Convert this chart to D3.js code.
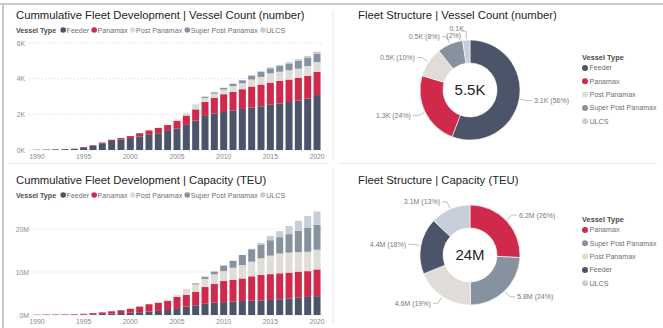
<!DOCTYPE html>
<html><head><meta charset="utf-8">
<script src="https://cdn.jsdelivr.net/npm/d3@7/dist/d3.min.js"></script>
<style>
html,body{margin:0;padding:0;background:#fff;}
svg{display:block;font-family:"Liberation Sans",Arial,sans-serif;}
</style></head><body>
<svg id="dash" width="663" height="328"></svg>
<script>
// ---- data ----------------------------------------------------------
const years = [1990,1991,1992,1993,1994,1995,1996,1997,1998,1999,2000,2001,2002,2003,2004,2005,
               2006,2007,2008,2009,2010,2011,2012,2013,2014,2015,2016,2017,2018,2019,2020];
const yearTicks = [1990,1995,2000,2005,2010,2015,2020];
const vesselTypes = ["Feeder","Panamax","Post Panamax","Super Post Panamax","ULCS"];
const typeColors  = ["#4b5469","#cf2a4c","#e0dcd8","#8792a1","#c6ced9"];

// cumulative vessel count (number of vessels)
const countFeeder   = [10,22,32,45,62,150,245,375,505,590,670,760,850,940,1070,1205,1410,1650,1910,2040,2130,2220,2300,2370,2450,2540,2610,2690,2780,2880,3080];
const countPanamax  = [5,6,8,10,12,20,30,45,70,85,110,180,250,300,330,430,520,630,780,890,1000,1040,1110,1190,1220,1240,1260,1260,1260,1280,1310];
const countPost     = [0,0,0,0,0,0,0,0,0,0,0,0,5,10,20,70,160,240,230,230,260,320,330,390,430,520,520,520,520,550,535];
const countSuper    = [0,0,0,0,0,0,0,0,0,0,0,0,0,0,0,0,0,15,70,75,95,130,170,220,290,280,320,380,440,450,460];
const countULCS     = [0,0,0,0,0,0,0,0,0,0,0,0,0,0,0,0,0,0,0,0,5,10,15,25,40,60,60,80,95,120,130];
const countTicks    = [0,2000,4000,6000];

// cumulative capacity (million TEU)
const capFeeder  = [0.02,0.03,0.04,0.05,0.07,0.12,0.18,0.26,0.36,0.45,0.55,0.65,0.8,0.95,1.15,1.6,1.95,2.25,2.6,2.86,3.0,3.1,3.26,3.33,3.4,3.5,3.64,3.8,4.0,4.2,4.38];
const capPanamax = [0.06,0.08,0.09,0.1,0.12,0.16,0.26,0.36,0.5,0.65,0.9,1.3,1.7,1.9,2.1,2.6,2.7,3.15,3.9,4.34,4.9,5.1,5.24,5.67,5.9,6.0,6.06,6.05,6.1,6.0,6.22];
const capPost    = [0,0,0,0,0,0,0,0,0,0,0,0,0,0.1,0.3,0.5,1.4,1.7,1.9,2.25,2.3,2.8,3.1,3.4,3.9,4.3,4.6,4.65,4.5,4.5,4.58];
const capSuper   = [0,0,0,0,0,0,0,0,0,0,0,0,0,0,0,0,0,0.26,0.5,0.65,1.3,1.6,2.35,2.9,3.2,3.6,3.8,4.3,5.0,5.6,5.79];
const capULCS    = [0,0,0,0,0,0,0,0,0,0,0,0,0,0.0,0,0,0,0,0,0,0,0,0,0.1,0.4,1.0,1.4,1.9,2.3,2.7,3.12];
const capTicks   = [0,10,20];

const countSeries = [countFeeder,countPanamax,countPost,countSuper,countULCS];
const capSeries   = [capFeeder,capPanamax,capPost,capSuper,capULCS];

// ---- helpers -------------------------------------------------------
const svg = d3.select("#dash");
const TXT = "#252423", SUB = "#6f6f6f", LBL = "#7a7a7a";

// frame and panel separators
svg.append("line").attr("x1",0).attr("x2",663).attr("y1",4).attr("y2",4).attr("stroke","#c8c8c8").attr("stroke-width",2);
svg.append("line").attr("x1",3).attr("x2",3).attr("y1",4).attr("y2",328).attr("stroke","#c8c8c8").attr("stroke-width",2);
[[333,10,161],[333,169,324]].forEach(([x,a,b])=>svg.append("line").attr("x1",x).attr("x2",x).attr("y1",a).attr("y2",b).attr("stroke","#e6e6e6"));
[[8,328],[339,657]].forEach(([a,b])=>svg.append("line").attr("x1",a).attr("x2",b).attr("y1",163.5).attr("y2",163.5).attr("stroke","#e6e6e6"));

function title(x,y,t){
  svg.append("text").attr("x",x).attr("y",y).attr("fill",TXT).attr("font-size",11.3).text(t);
}

function hLegend(x,y){
  const g = svg.append("g").attr("transform",`translate(${x},${y})`);
  const head = g.append("text").attr("font-size",7.1).attr("font-weight","bold").attr("fill","#4a4a4a").attr("dy","0.35em").text("Vessel Type");
  let cx = head.node().getComputedTextLength() + 4.5;
  vesselTypes.forEach((t,i)=>{
    g.append("circle").attr("cx",cx+2.6).attr("cy",0).attr("r",2.8).attr("fill",typeColors[i]);
    const tx = g.append("text").attr("x",cx+6).attr("dy","0.35em").attr("font-size",7.1).attr("fill",SUB).text(t);
    cx += 6 + tx.node().getComputedTextLength() + 2.5;
  });
}

function vLegend(x,y,order,colors){
  const g = svg.append("g").attr("transform",`translate(${x},${y})`);
  g.append("text").attr("font-size",7.4).attr("font-weight","bold").attr("fill","#4a4a4a").attr("dy","0.35em").text("Vessel Type");
  order.forEach((t,i)=>{
    const yy = 11 + i*13.3;
    g.append("circle").attr("cx",3).attr("cy",yy).attr("r",3).attr("fill",colors[i]);
    g.append("text").attr("x",7.5).attr("y",yy).attr("dy","0.35em").attr("font-size",7.1).attr("fill",SUB).text(t);
  });
}

function stackedBars(series, yMax, ticks, fmt, y0, yTop, gridX0){
  const rows = years.map((yr,i)=>{const o={year:yr}; vesselTypes.forEach((t,k)=>o[t]=series[k][i]); return o;});
  const stacked = d3.stack().keys(vesselTypes)(rows);
  const x = d3.scaleBand().domain(years).range([32.3,321.7]).paddingInner(0.25).paddingOuter(0.125);
  const y = d3.scaleLinear().domain([0,yMax]).range([y0,yTop]);
  const g = svg.append("g");
  // dotted gridlines
  g.selectAll("line.grid").data(ticks).join("line")
    .attr("x1",gridX0).attr("x2",322).attr("y1",d=>y(d)).attr("y2",d=>y(d))
    .attr("stroke","#c9c9c9").attr("stroke-dasharray","1,2.2").attr("stroke-width",0.8);
  // y axis labels
  const ya = g.append("g").attr("transform",`translate(${gridX0-4},0)`)
    .call(d3.axisLeft(y).tickValues(ticks).tickSize(0).tickPadding(0).tickFormat(fmt));
  ya.select(".domain").remove();
  ya.selectAll("text").attr("fill","#8a8a8a").attr("font-size",6.8).attr("font-family",null);
  // bars
  g.selectAll("g.layer").data(stacked).join("g").attr("fill",(d,i)=>typeColors[i])
    .selectAll("rect").data(d=>d).join("rect")
      .attr("x",d=>x(d.data.year)).attr("width",x.bandwidth())
      .attr("y",d=>y(d[1])).attr("height",d=>Math.max(0,y(d[0])-y(d[1])));
  // x axis labels
  const xa = g.append("g").attr("transform",`translate(0,${y0+4})`)
    .call(d3.axisBottom(x).tickValues(yearTicks).tickSize(0).tickPadding(0));
  xa.select(".domain").remove();
  xa.selectAll("text").attr("fill","#8a8a8a").attr("font-size",6.8).attr("font-family",null).attr("dy","0.75em");
}

function donut(cx, cy, order, values, colors, fmtVal, centerText){
  const R = 50, r0 = 27;
  const g = svg.append("g").attr("transform",`translate(${cx},${cy})`);
  const total = d3.sum(values);
  const arcs = d3.pie().sort(null).value(d=>d)(values);
  const arc = d3.arc().innerRadius(r0).outerRadius(R);
  g.selectAll("path").data(arcs).join("path").attr("d",arc).attr("fill",(d,i)=>colors[i]).attr("stroke","#fff").attr("stroke-width",0.6);
  g.append("text").attr("text-anchor","middle").attr("dy","0.36em").attr("font-size",15).attr("fill",TXT).text(centerText(total));
  arcs.forEach((a,i)=>{
    const m = (a.startAngle+a.endAngle)/2;
    const sx = Math.sin(m), sy = -Math.cos(m);
    const p1 = [sx*(R+1), sy*(R+1)], p2 = [sx*(R+8), sy*(R+8)];
    const right = sx >= 0;
    const share = values[i]/total;
    const pct = `(${Math.round(share*100)}%)`;
    if (share < 0.03) {
      // narrow slice: two-line label beside a bracket leader
      const ex = p2[0]-5;
      g.append("path").attr("d",`M${p1[0]},${p1[1]}V${p2[1]-1}H${ex}`).attr("fill","none").attr("stroke","#a8a8a8").attr("stroke-width",0.7);
      const t = g.append("text").attr("text-anchor","middle").attr("font-size",7).attr("fill",LBL);
      t.append("tspan").attr("x",ex-4).attr("y",p2[1]-1).text(fmtVal(values[i]));
      t.append("tspan").attr("x",ex-7).attr("y",p2[1]+5.5).text(pct);
      return;
    }
    const p3 = [p2[0] + (right?5:-5), p2[1]];
    g.append("polyline").attr("points",[p1,p2,p3].map(p=>p.join(",")).join(" "))
      .attr("fill","none").attr("stroke","#a8a8a8").attr("stroke-width",0.7);
    g.append("text").attr("x",p3[0]+(right?2:-2)).attr("y",p3[1]).attr("dy","0.35em")
      .attr("text-anchor",right?"start":"end").attr("font-size",7).attr("fill",LBL)
      .text(`${fmtVal(values[i])} ${pct}`);
  });
}

// ---- top-left: vessel count development ---------------------------
title(16,19,"Cummulative Fleet Development | Vessel Count (number)");
hLegend(16,30);
stackedBars(countSeries, 6000, countTicks, d=>`${d/1000}K`, 150, 43, 29);

// ---- bottom-left: capacity development -----------------------------
title(16,184,"Cummulative Fleet Development | Capacity (TEU)");
hLegend(16,195);
stackedBars(capSeries, 20, capTicks, d=>`${d}M`, 315, 229, 33);

// ---- top-right: vessel count structure (2020 fleet) -----------------
const last = years.length-1;
const countNow = countSeries.map(s=>s[last]);
const countOrder = d3.range(vesselTypes.length).sort((a,b)=>countNow[b]-countNow[a]);
title(358,19,"Fleet Structure | Vessel Count (number)");
donut(470,90, countOrder.map(i=>vesselTypes[i]), countOrder.map(i=>countNow[i]), countOrder.map(i=>typeColors[i]),
      v=>`${d3.format(".1f")(v/1000)}K`, t=>`${d3.format(".1f")(t/1000)}K`);
vLegend(582,57, countOrder.map(i=>vesselTypes[i]), countOrder.map(i=>typeColors[i]));

// ---- bottom-right: capacity structure (2020 fleet) ------------------
const capNow = capSeries.map(s=>s[last]);
const capOrder = d3.range(vesselTypes.length).sort((a,b)=>capNow[b]-capNow[a]);
title(358,184,"Fleet Structure | Capacity (TEU)");
donut(470,255, capOrder.map(i=>vesselTypes[i]), capOrder.map(i=>capNow[i]), capOrder.map(i=>typeColors[i]),
      v=>`${d3.format(".1f")(v)}M`, t=>`${d3.format(".0f")(t)}M`);
vLegend(582,219, capOrder.map(i=>vesselTypes[i]), capOrder.map(i=>typeColors[i]));
</script>
</body></html>
